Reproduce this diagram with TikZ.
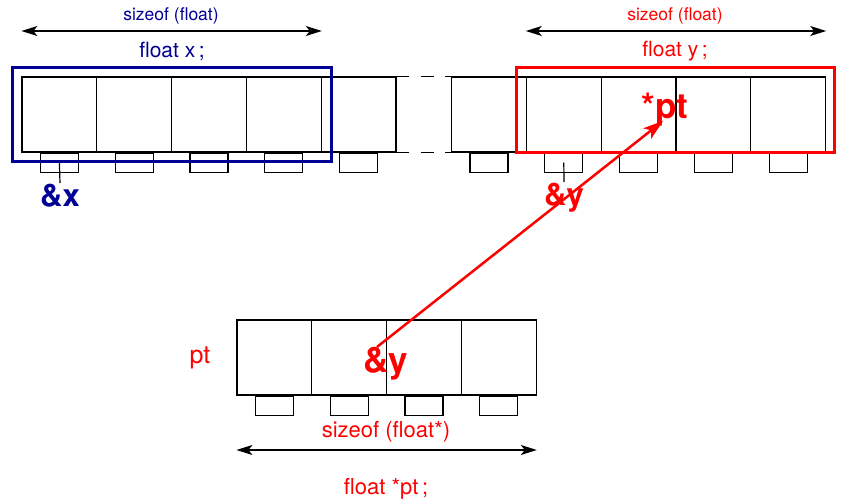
\documentclass[tikz,border=0pt]{standalone}
\usepackage{fontspec}
\setmainfont{TeX Gyre Heros}
\usetikzlibrary{arrows.meta}
\definecolor{navy}{RGB}{0,0,150}

\tikzset{
    cell/.style={draw, minimum width=74.8pt, minimum height=75pt, inner sep=0pt, line width=1.2pt},
    byte/.style={draw, minimum width=38pt, minimum height=19pt, inner sep=0pt, line width=1.2pt},
    dimarrow/.style={{Stealth[length=16pt, width=10pt, inset=4pt]}-{Stealth[length=16pt, width=10pt, inset=4pt]}, line width=1.3pt},
    addr/.style={font=\bfseries\fontsize{#1}{#1}\selectfont, inner sep=1pt},
    txt/.style={font=\fontsize{#1}{#1}\selectfont, inner sep=1pt},
}

\begin{document}
\begin{tikzpicture}[x=1pt, y=-1pt]
    \useasboundingbox (0, 0) rectangle (841, 502);

    % memory, first part (x) and second part (y)
    \foreach \i in {0,...,4} {
        \node[cell] (a\i) at (59.4+74.8*\i, 114.5) {};
        \node[byte, anchor=north] (ab\i) at (a\i.south) {};
        \node[cell] (b\i) at (489+74.8*\i, 114.5) {};
        \node[byte, anchor=north] (bb\i) at (b\i.south) {};
    }
    \foreach \a in {north, south} {
        \draw[line width=1.2pt] (a4.\a\space east) -- ++(12, 0);
        \draw[line width=1.2pt] (a4.\a\space east) ++(24, 0) -- ++(13, 0);
        \draw[line width=1.2pt] (b0.\a\space west) -- ++(-6, 0);
    }

    % pointer pt
    \foreach \i in {0,...,3} {
        \node[cell] (p\i) at (274.4+74.8*\i, 357.5) {};
        \node[byte, anchor=north] (pb\i) at (p\i.south) {};
    }

    % float x
    \draw[navy, line width=3pt] (12, 68) rectangle (331, 162);
    \draw[dimarrow] (a0.west |- 0,31) -- (a3.east |- 0,31);
    \node[txt=17.5, text=navy] (sx) at (171, 16) {sizeof (float)};
    \node[txt=21, text=navy] (fx) at (172, 51) {float x\,;};
    \node[addr=31, text=navy] (ax) at (60, 196) {\&x};
    \draw[line width=1.2pt] (ab0.center) -- (ax.north);

    % float y
    \draw[red, line width=3pt] (516, 68) rectangle (834, 153);
    \draw[dimarrow] (b1.west |- 0,31) -- (b4.east |- 0,31);
    \node[txt=17.5, text=red] (sy) at (675, 16) {sizeof (float)};
    \node[txt=21, text=red] (fy) at (675, 51) {float y\,;};
    \node[addr=31, text=red] (ay) at (564, 198) {\&y};
    \draw[line width=1.2pt] (bb1.center) -- (ay.north);

    % float *pt
    \node[txt=25, text=red] (pn) at (200, 358) {pt};
    \node[addr=35, text=red] (py) at (386, 364) {\&y};
    \node[addr=35, text=red] (star) at (665, 110) {*pt};
    \draw[dimarrow] (p0.west |- 0,450) -- (p3.east |- 0,450);
    \node[txt=22, text=red] (sp) at (386, 432) {sizeof (float*)};
    \node[txt=22, text=red] (fp) at (386, 489) {float *pt\,;};

    \coordinate (src) at (377, 347);
    \coordinate (dst) at (663, 121);
    \draw[red, line width=2.5pt, -{Stealth[length=20pt, width=13pt, inset=5pt]}] (src) -- (dst);
\end{tikzpicture}
\end{document}
